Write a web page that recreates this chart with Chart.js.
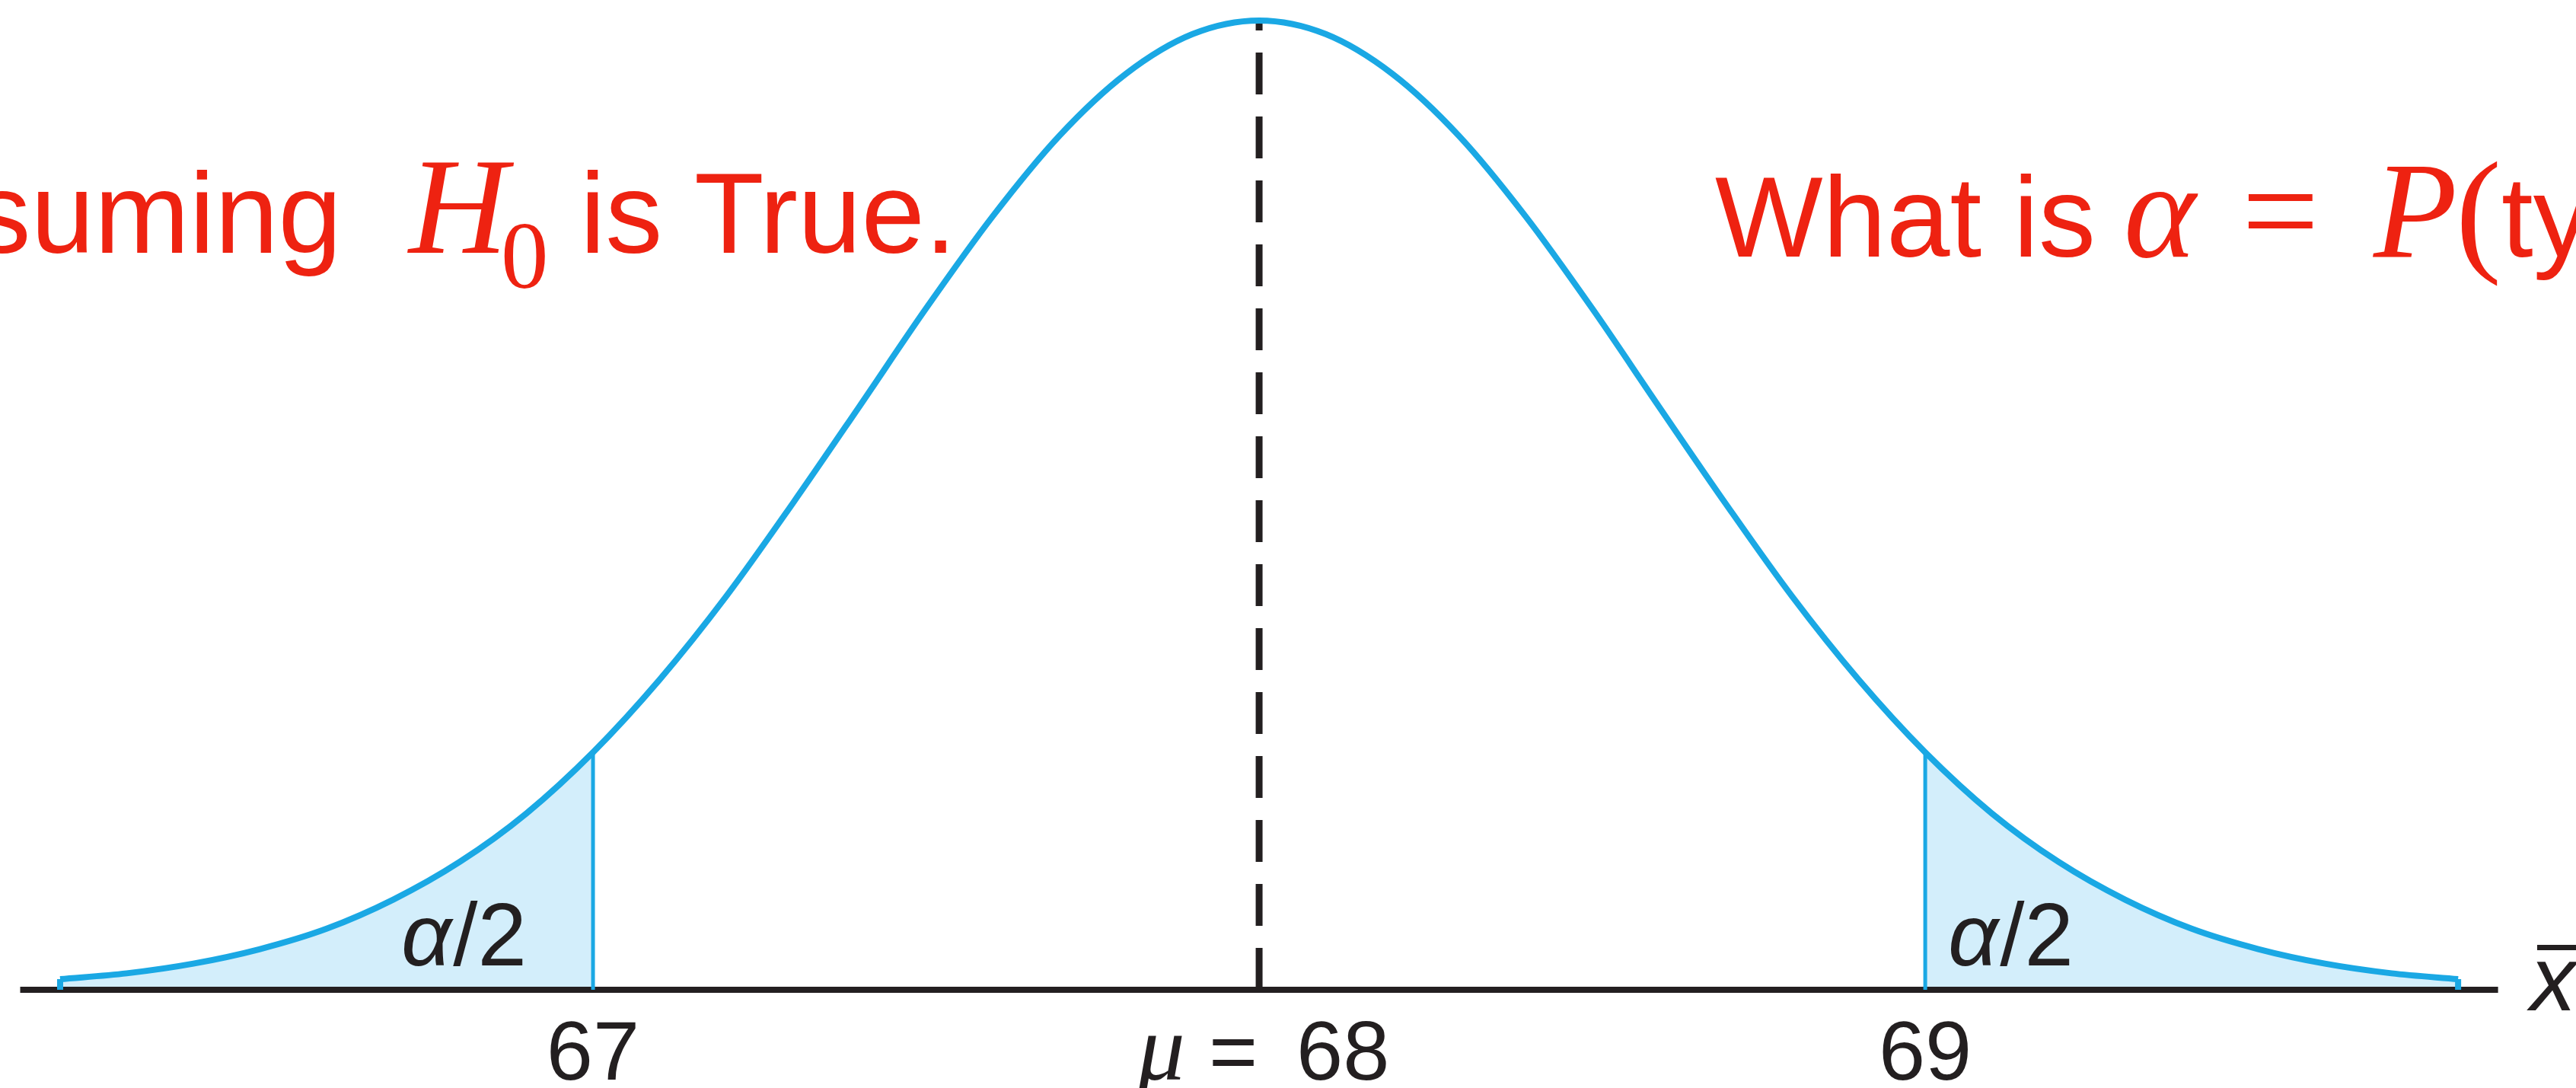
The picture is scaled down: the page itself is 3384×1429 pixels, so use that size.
<!DOCTYPE html>
<html>
<head>
<meta charset="utf-8">
<title>Two-tailed test: alpha / 2 in each tail</title>
<script src="https://cdn.jsdelivr.net/npm/chart.js@4.4.1/dist/chart.umd.min.js"></script>
<style>
  html, body { margin: 0; padding: 0; background: #fff; overflow: hidden; }
  #wrap { width: 3384px; height: 1429px; position: relative; }
</style>
</head>
<body>
<div id="wrap"><canvas id="chart"></canvas></div>
<script>
// sampling distribution of x-bar under H0 (height relative to the peak)
const curveX = [66.2, 66.3, 66.4, 66.5, 66.6, 66.7, 66.8, 66.9, 67.0, 67.1, 67.2, 67.3, 67.4,
                67.5, 67.6, 67.7, 67.8, 67.9, 68.0, 68.1, 68.2, 68.3, 68.4, 68.5, 68.6, 68.7,
                68.8, 68.9, 69.0, 69.1, 69.2, 69.3, 69.4, 69.5, 69.6, 69.7, 69.8];
const curveY = [0.011, 0.017, 0.027, 0.042, 0.063, 0.093, 0.132, 0.182, 0.245, 0.320, 0.406, 0.502, 0.602,
                0.703, 0.798, 0.881, 0.945, 0.986, 1.000, 0.986, 0.945, 0.881, 0.798, 0.703, 0.602, 0.502,
                0.406, 0.320, 0.245, 0.182, 0.132, 0.093, 0.063, 0.042, 0.027, 0.017, 0.011];

const meanX = 68;
const criticalX = [67, 69];
const tickValues = [67, 68, 69];
const tickLabels = ['67', '68', '69'];
const axisRange = [66.14, 69.86];

const BLUE = '#1aa8e4';
const FILL = '#d3eefb';
const INK = '#231f20';
const RED = '#ee2211';

const pts = curveX.map((x, i) => ({ x, y: curveY[i] }));
const heightAt = (x) => curveY[curveX.findIndex(v => Math.abs(v - x) < 1e-9)];

function vline(x, top, width, extra) {
    return Object.assign({
        data: [{ x, y: 0 }, { x, y: top }],
        borderColor: BLUE,
        borderWidth: width,
        pointRadius: 0,
        fill: false,
        clip: false
    }, extra || {});
}

const datasets = [
    {
        data: pts,
        borderColor: BLUE,
        borderWidth: 8,
        borderJoinStyle: 'round',
        pointRadius: 0,
        cubicInterpolationMode: 'monotone',
        fill: false,
        clip: false,
        order: 0
    },
    vline(criticalX[0], heightAt(criticalX[0]), 5, { order: 1 }),
    vline(criticalX[1], heightAt(criticalX[1]), 5, { order: 1 }),
    vline(curveX[0], curveY[0], 8, { order: 1 }),
    vline(curveX[curveX.length - 1], curveY[curveY.length - 1], 8, { order: 1 }),
    {
        data: [{ x: meanX, y: 0 }, { x: meanX, y: heightAt(meanX) }],
        borderColor: INK,
        borderWidth: 9,
        borderDash: [55, 29],
        pointRadius: 0,
        fill: false,
        clip: false,
        order: 2
    },
    {
        data: [{ x: axisRange[0], y: 0 }, { x: axisRange[1], y: 0 }],
        borderColor: INK,
        borderWidth: 8,
        pointRadius: 0,
        fill: false,
        clip: false,
        order: 3
    },
    {
        data: pts.filter(p => p.x <= criticalX[0] + 1e-9),
        borderWidth: 0,
        backgroundColor: FILL,
        pointRadius: 0,
        cubicInterpolationMode: 'monotone',
        fill: 'origin',
        clip: false,
        order: 4
    },
    {
        data: pts.filter(p => p.x >= criticalX[1] - 1e-9),
        borderWidth: 0,
        backgroundColor: FILL,
        pointRadius: 0,
        cubicInterpolationMode: 'monotone',
        fill: 'origin',
        clip: false,
        order: 4
    }
];

function runs(ctx, list, baseY) {
    list.forEach(r => {
        ctx.font = r.font;
        ctx.textAlign = r.align || 'left';
        ctx.fillText(r.text, r.x, baseY + (r.dy || 0));
    });
}

const annotate = {
    id: 'annotate',
    afterDatasetsDraw(chart) {
        const { ctx, scales: { x } } = chart;
        const SANS = "'Liberation Sans', Arial, sans-serif";
        const SERIF = "'Liberation Serif', 'Times New Roman', serif";
        ctx.save();
        ctx.textBaseline = 'alphabetic';

        // red remarks (cut by the frame on both sides)
        ctx.fillStyle = RED;
        runs(ctx, [
            { text: 'Assuming', font: `150px ${SANS}`, x: 449, align: 'right' },
            { text: 'H', font: `italic 180px ${SERIF}`, x: 537 },
            { text: '0', font: `125px ${SERIF}`, x: 658, dy: 46 },
            { text: 'is True.', font: `150px ${SANS}`, x: 762 }
        ], 332);
        runs(ctx, [
            { text: 'What is', font: `150px ${SANS}`, x: 2253 },
            { text: 'α', font: `italic 180px ${SERIF}`, x: 2790 },
            { text: '=', font: `180px ${SERIF}`, x: 2945 },
            { text: 'P', font: `italic 180px ${SERIF}`, x: 3118 },
            { text: '(', font: `180px ${SERIF}`, x: 3226 },
            { text: 'type I error)', font: `150px ${SANS}`, x: 3286 }
        ], 337);

        ctx.fillStyle = INK;
        // value labels under the axis
        tickValues.forEach((v, i) => {
            const px = x.getPixelForValue(v);
            if (v === meanX) {
                runs(ctx, [
                    { text: 'μ', font: `italic 125px ${SERIF}`, x: px - 160 },
                    { text: '=', font: `110px ${SANS}`, x: px - 66 },
                    { text: tickLabels[i], font: `110px ${SANS}`, x: px + 49 }
                ], 1418);
            } else {
                runs(ctx, [{ text: tickLabels[i], font: `110px ${SANS}`, x: px, align: 'center' }], 1418);
            }
        });

        // alpha/2 in each tail
        const half = (left) => {
            ctx.font = `italic 116px ${SANS}`;
            ctx.textAlign = 'left';
            ctx.fillText('α', left, 1268);
            const w = ctx.measureText('α').width;
            ctx.font = `116px ${SANS}`;
            ctx.fillText('/2', left + w + 2, 1268);
        };
        half(x.getPixelForValue(criticalX[0]) - 252);
        half(x.getPixelForValue(criticalX[1]) + 30);

        // x-bar axis name
        ctx.font = `italic 120px ${SANS}`;
        ctx.textAlign = 'left';
        ctx.fillText('x', 3324, 1327);
        ctx.fillRect(3333, 1241, 70, 7);

        ctx.restore();
    }
};

new Chart(document.getElementById('chart'), {
    type: 'line',
    data: { datasets },
    options: {
        responsive: true,
        maintainAspectRatio: false,
        animation: false,
        devicePixelRatio: 1,
        layout: { padding: { left: 0, right: 0, top: 0, bottom: 129 } },
        plugins: { legend: { display: false }, tooltip: { enabled: false } },
        scales: {
            x: { type: 'linear', display: false, min: 66.1097, max: 69.977 },
            y: { display: false, min: 0, max: 1.0212 }
        }
    },
    plugins: [annotate]
});
</script>
</body>
</html>
